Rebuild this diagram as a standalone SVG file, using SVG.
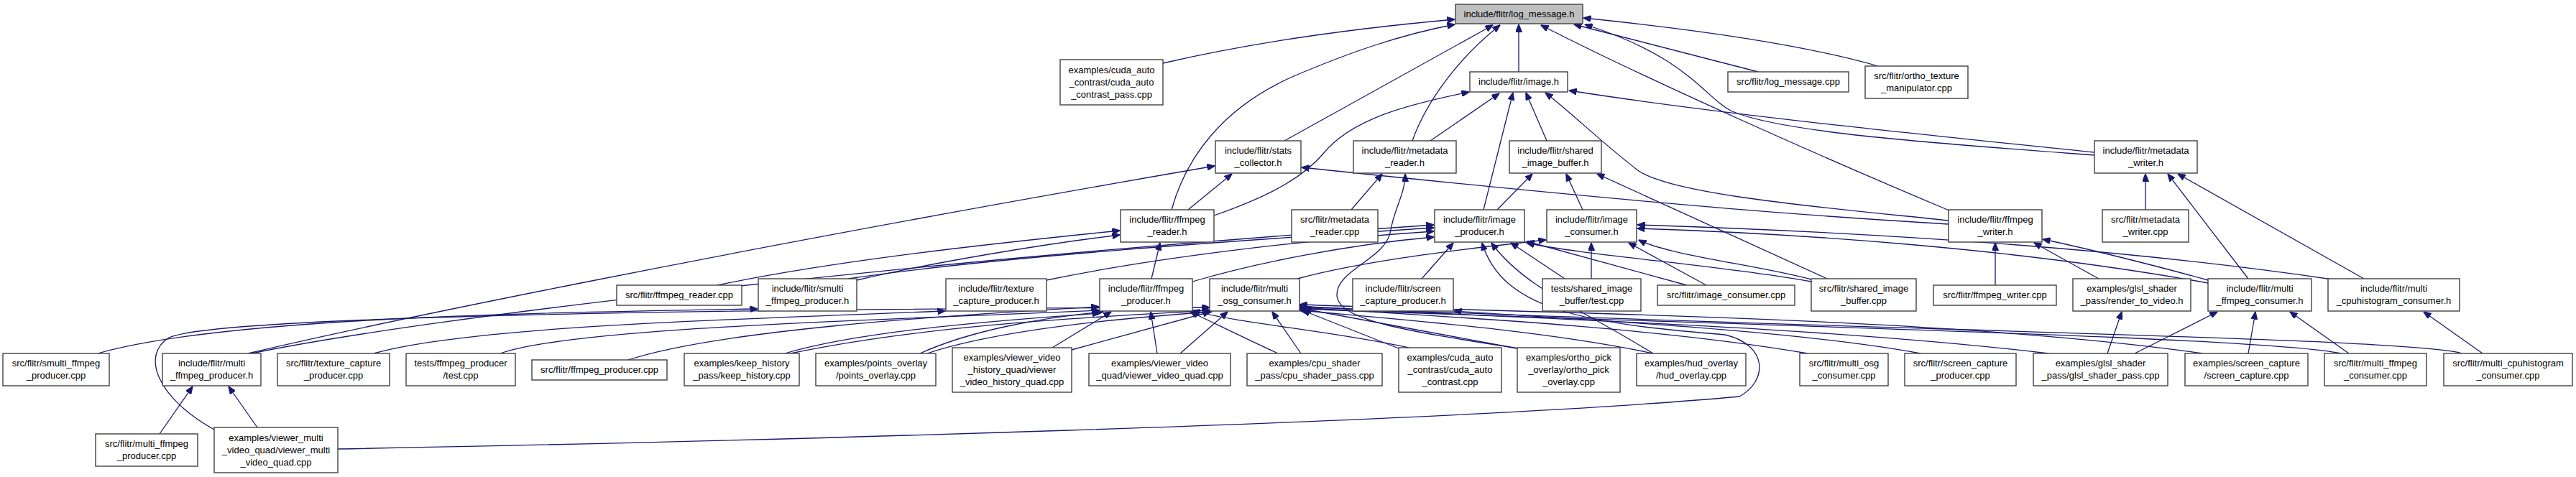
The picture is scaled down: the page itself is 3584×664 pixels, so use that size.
<svg xmlns="http://www.w3.org/2000/svg" width="3584" height="664" viewBox="0 0 3584 664">
<style>
.n rect{fill:#fff;stroke:#404040;stroke-width:1.4}
.n.root rect{fill:#bfbfbf}
.n text{font-family:"Liberation Sans",Arial,sans-serif;font-size:13px;fill:#000;text-anchor:middle}
.e path{fill:none;stroke:#191970;stroke-width:1.3;marker-end:url(#a)}
</style>
<defs>
<marker id="a" markerWidth="11" markerHeight="9" refX="10.5" refY="4.5" orient="auto" markerUnits="userSpaceOnUse"><path d="M0,0 L11,4.5 L0,9 z" fill="#191970" stroke="#191970" stroke-width="1"/></marker>
</defs>
<rect width="3584" height="664" fill="#fff"/>
<g id="edges" class="e">
<path d="M2113,100 L2113,34"/>
<path d="M1618,88 C1760,55 1900,38 2024,27"/>
<path d="M1630,292 C1650,220 1700,150 1800,106 C1880,72 1950,48 2024,34"/>
<path d="M1787,196 L2077,35"/>
<path d="M1965,196 C1985,140 2030,80 2087,35"/>
<path d="M2712,293 C2550,225 2300,115 2144,35"/>
<path d="M2613,92 C2530,68 2400,45 2203,25"/>
<path d="M2446,100 L2190,34"/>
<path d="M2914,216 C2700,200 2480,185 2410,155 C2370,135 2350,80 2205,34"/>
<path d="M2914,212 C2700,190 2400,160 2183,126"/>
<path d="M1689,300 C1760,275 1810,250 1840,215 C1880,165 1960,145 2044,128"/>
<path d="M1990,196 L2086,130"/>
<path d="M2064,292 L2105,129"/>
<path d="M2152,196 L2123,129"/>
<path d="M2711,307 C2550,290 2330,272 2280,238 C2230,200 2190,160 2150,129"/>
<path d="M1653,292 L1714,242"/>
<path d="M345,492 C500,455 1000,350 1690,231"/>
<path d="M2711,312 C2600,305 2400,295 1811,233"/>
<path d="M1880,292 L1923,242"/>
<path d="M2113,485 C1950,460 1860,445 1860,410 C1860,375 1930,360 1935,320 C1940,290 1955,270 1955,242"/>
<path d="M2083,292 L2132,242"/>
<path d="M2202,292 L2179,242"/>
<path d="M2542,388 L2222,242"/>
<path d="M2985,292 L2985,242"/>
<path d="M3128,388 L3016,242"/>
<path d="M3289,388 L3030,242"/>
<path d="M2776,397 L2776,338"/>
<path d="M2920,388 L2830,338"/>
<path d="M3072,390 C3000,370 2900,345 2842,333"/>
<path d="M1602,388 L1614,338"/>
<path d="M998,397 C1150,365 1350,342 1558,321"/>
<path d="M1192,390 C1300,365 1450,340 1558,327"/>
<path d="M1659,392 C1750,365 1880,340 1995,330"/>
<path d="M1456,390 C1600,360 1800,335 1995,322"/>
<path d="M1180,388 C1400,355 1800,330 1995,317"/>
<path d="M350,492 C600,440 1300,360 1995,313"/>
<path d="M1978,388 L2022,338"/>
<path d="M2177,388 L2102,338"/>
<path d="M2347,397 L2124,336"/>
<path d="M2520,392 C2400,370 2200,355 2124,338"/>
<path d="M2300,492 C2200,430 2120,400 2075,338"/>
<path d="M470,625 C1000,615 2000,590 2420,552 C2460,530 2460,480 2400,466 C2200,450 2090,430 2062,338"/>
<path d="M2214,388 L2214,338"/>
<path d="M2374,397 L2266,338"/>
<path d="M2520,389 C2450,370 2320,355 2280,334"/>
<path d="M1805,388 C1900,362 2050,345 2151,334"/>
<path d="M3072,394 C2800,345 2500,325 2278,318"/>
<path d="M3245,389 C2900,338 2500,320 2278,313"/>
<path d="M136,492 C300,445 700,435 1054,430"/>
<path d="M520,492 C650,455 1000,445 1315,433"/>
<path d="M874,501 C1000,460 1300,440 1529,427"/>
<path d="M696,492 C800,455 1250,445 1529,432"/>
<path d="M1092,492 C1200,460 1400,445 1530,436"/>
<path d="M1280,492 C1350,460 1450,442 1535,434"/>
<path d="M1464,484 L1546,434"/>
<path d="M1610,492 L1601,434"/>
<path d="M1778,492 C1730,470 1690,450 1656,434"/>
<path d="M1960,484 C1850,460 1720,450 1659,432"/>
<path d="M1100,492 C1300,450 1550,440 1684,432"/>
<path d="M1290,492 C1400,455 1600,440 1686,434"/>
<path d="M1491,487 L1684,434"/>
<path d="M1642,492 L1708,434"/>
<path d="M1810,492 L1770,434"/>
<path d="M1946,485 L1812,432"/>
<path d="M2111,485 L1814,430"/>
<path d="M2300,492 C2150,460 1950,445 1808,432"/>
<path d="M2515,492 C2300,455 2000,440 1808,428"/>
<path d="M2850,492 C2500,450 2000,440 1808,426"/>
<path d="M3065,492 C2700,440 2100,435 1808,424"/>
<path d="M3257,492 C3150,470 2500,455 1808,430"/>
<path d="M3426,492 C3350,470 2600,460 1808,427"/>
<path d="M298,598 C220,555 195,495 235,470 C300,440 1000,430 1683,428"/>
<path d="M2672,492 C2500,460 2200,445 2023,433"/>
<path d="M2932,492 L2952,434"/>
<path d="M2970,492 L3085,434"/>
<path d="M3128,492 L3138,434"/>
<path d="M3268,492 L3186,434"/>
<path d="M3454,492 L3372,434"/>
<path d="M222,604 L268,538"/>
<path d="M358,595 L318,538"/>
</g>
<g id="n_log" class="n root"><rect x="2025" y="6" width="177" height="27"/><text x="2113.5" y="23.5">include/flitr/log_message.h</text></g>
<g id="n_cudapass" class="n"><rect x="1475" y="83" width="143" height="63"/><text x="1546.5" y="101.5">examples/cuda_auto</text><text x="1546.5" y="118.5">_contrast/cuda_auto</text><text x="1546.5" y="135.5">_contrast_pass.cpp</text></g>
<g id="n_image" class="n"><rect x="2045" y="100" width="136" height="28"/><text x="2113" y="118">include/flitr/image.h</text></g>
<g id="n_logcpp" class="n"><rect x="2404" y="100" width="168" height="28"/><text x="2488" y="118">src/flitr/log_message.cpp</text></g>
<g id="n_ortho" class="n"><rect x="2595" y="92" width="143" height="45"/><text x="2666.5" y="110">src/flitr/ortho_texture</text><text x="2666.5" y="127">_manipulator.cpp</text></g>
<g id="n_stats" class="n"><rect x="1691" y="196" width="119" height="45"/><text x="1750.5" y="214">include/flitr/stats</text><text x="1750.5" y="231">_collector.h</text></g>
<g id="n_mdreader" class="n"><rect x="1883" y="196" width="143" height="45"/><text x="1954.5" y="214">include/flitr/metadata</text><text x="1954.5" y="231">_reader.h</text></g>
<g id="n_sib" class="n"><rect x="2100" y="196" width="128" height="45"/><text x="2164" y="214">include/flitr/shared</text><text x="2164" y="231">_image_buffer.h</text></g>
<g id="n_mdwriter" class="n"><rect x="2914" y="196" width="143" height="45"/><text x="2985.5" y="214">include/flitr/metadata</text><text x="2985.5" y="231">_writer.h</text></g>
<g id="n_ffreader" class="n"><rect x="1559" y="292" width="130" height="45"/><text x="1624" y="310">include/flitr/ffmpeg</text><text x="1624" y="327">_reader.h</text></g>
<g id="n_mdreadercpp" class="n"><rect x="1797" y="292" width="120" height="45"/><text x="1857" y="310">src/flitr/metadata</text><text x="1857" y="327">_reader.cpp</text></g>
<g id="n_improd" class="n"><rect x="1996" y="292" width="125" height="45"/><text x="2058.5" y="310">include/flitr/image</text><text x="2058.5" y="327">_producer.h</text></g>
<g id="n_imcons" class="n"><rect x="2152" y="292" width="125" height="45"/><text x="2214.5" y="310">include/flitr/image</text><text x="2214.5" y="327">_consumer.h</text></g>
<g id="n_ffwriter" class="n"><rect x="2711" y="292" width="130" height="45"/><text x="2776" y="310">include/flitr/ffmpeg</text><text x="2776" y="327">_writer.h</text></g>
<g id="n_mdwritercpp" class="n"><rect x="2925" y="292" width="120" height="45"/><text x="2985" y="310">src/flitr/metadata</text><text x="2985" y="327">_writer.cpp</text></g>
<g id="n_ffreadercpp" class="n"><rect x="858" y="397" width="174" height="28"/><text x="945" y="415">src/flitr/ffmpeg_reader.cpp</text></g>
<g id="n_smultih" class="n"><rect x="1055" y="388" width="137" height="45"/><text x="1123.5" y="406">include/flitr/smulti</text><text x="1123.5" y="423">_ffmpeg_producer.h</text></g>
<g id="n_texcaph" class="n"><rect x="1316" y="388" width="140" height="45"/><text x="1386" y="406">include/flitr/texture</text><text x="1386" y="423">_capture_producer.h</text></g>
<g id="n_ffprodh" class="n"><rect x="1530" y="388" width="129" height="45"/><text x="1594.5" y="406">include/flitr/ffmpeg</text><text x="1594.5" y="423">_producer.h</text></g>
<g id="n_multiosgh" class="n"><rect x="1683" y="388" width="125" height="45"/><text x="1745.5" y="406">include/flitr/multi</text><text x="1745.5" y="423">_osg_consumer.h</text></g>
<g id="n_scrcaph" class="n"><rect x="1882" y="388" width="140" height="45"/><text x="1952" y="406">include/flitr/screen</text><text x="1952" y="423">_capture_producer.h</text></g>
<g id="n_testsib" class="n"><rect x="2146" y="388" width="137" height="45"/><text x="2214.5" y="406">tests/shared_image</text><text x="2214.5" y="423">_buffer/test.cpp</text></g>
<g id="n_imconscpp" class="n"><rect x="2306" y="397" width="191" height="28"/><text x="2401.5" y="415">src/flitr/image_consumer.cpp</text></g>
<g id="n_sibcpp" class="n"><rect x="2520" y="388" width="146" height="45"/><text x="2593" y="406">src/flitr/shared_image</text><text x="2593" y="423">_buffer.cpp</text></g>
<g id="n_ffwritercpp" class="n"><rect x="2690" y="397" width="171" height="28"/><text x="2775.5" y="415">src/flitr/ffmpeg_writer.cpp</text></g>
<g id="n_render" class="n"><rect x="2884" y="388" width="164" height="45"/><text x="2966" y="406">examples/glsl_shader</text><text x="2966" y="423">_pass/render_to_video.h</text></g>
<g id="n_mffconsh" class="n"><rect x="3072" y="388" width="144" height="45"/><text x="3144" y="406">include/flitr/multi</text><text x="3144" y="423">_ffmpeg_consumer.h</text></g>
<g id="n_mcpuh" class="n"><rect x="3239" y="388" width="183" height="45"/><text x="3330.5" y="406">include/flitr/multi</text><text x="3330.5" y="423">_cpuhistogram_consumer.h</text></g>
<g id="n_smulticpp" class="n"><rect x="4" y="492" width="148" height="45"/><text x="78" y="510">src/flitr/smulti_ffmpeg</text><text x="78" y="527">_producer.cpp</text></g>
<g id="n_mffprodh" class="n"><rect x="226" y="492" width="137" height="45"/><text x="294.5" y="510">include/flitr/multi</text><text x="294.5" y="527">_ffmpeg_producer.h</text></g>
<g id="n_texcapcpp" class="n"><rect x="386" y="492" width="156" height="45"/><text x="464" y="510">src/flitr/texture_capture</text><text x="464" y="527">_producer.cpp</text></g>
<g id="n_testffprod" class="n"><rect x="565" y="492" width="152" height="45"/><text x="641" y="510">tests/ffmpeg_producer</text><text x="641" y="527">/test.cpp</text></g>
<g id="n_ffprodcpp" class="n"><rect x="740" y="501" width="188" height="28"/><text x="834" y="519">src/flitr/ffmpeg_producer.cpp</text></g>
<g id="n_keephist" class="n"><rect x="952" y="492" width="160" height="45"/><text x="1032" y="510">examples/keep_history</text><text x="1032" y="527">_pass/keep_history.cpp</text></g>
<g id="n_points" class="n"><rect x="1135" y="492" width="167" height="45"/><text x="1218.5" y="510">examples/points_overlay</text><text x="1218.5" y="527">/points_overlay.cpp</text></g>
<g id="n_vvhq" class="n"><rect x="1325" y="484" width="166" height="62"/><text x="1408" y="502">examples/viewer_video</text><text x="1408" y="519">_history_quad/viewer</text><text x="1408" y="536">_video_history_quad.cpp</text></g>
<g id="n_vvq" class="n"><rect x="1515" y="492" width="197" height="45"/><text x="1613.5" y="510">examples/viewer_video</text><text x="1613.5" y="527">_quad/viewer_video_quad.cpp</text></g>
<g id="n_cpushader" class="n"><rect x="1735" y="492" width="188" height="45"/><text x="1829" y="510">examples/cpu_shader</text><text x="1829" y="527">_pass/cpu_shader_pass.cpp</text></g>
<g id="n_cudacpp" class="n"><rect x="1946" y="484" width="143" height="62"/><text x="2017.5" y="502">examples/cuda_auto</text><text x="2017.5" y="519">_contrast/cuda_auto</text><text x="2017.5" y="536">_contrast.cpp</text></g>
<g id="n_orthopick" class="n"><rect x="2111" y="484" width="143" height="62"/><text x="2182.5" y="502">examples/ortho_pick</text><text x="2182.5" y="519">_overlay/ortho_pick</text><text x="2182.5" y="536">_overlay.cpp</text></g>
<g id="n_hud" class="n"><rect x="2277" y="492" width="152" height="45"/><text x="2353" y="510">examples/hud_overlay</text><text x="2353" y="527">/hud_overlay.cpp</text></g>
<g id="n_mosgcpp" class="n"><rect x="2504" y="492" width="123" height="45"/><text x="2565.5" y="510">src/flitr/multi_osg</text><text x="2565.5" y="527">_consumer.cpp</text></g>
<g id="n_scrcapcpp" class="n"><rect x="2650" y="492" width="155" height="45"/><text x="2727.5" y="510">src/flitr/screen_capture</text><text x="2727.5" y="527">_producer.cpp</text></g>
<g id="n_glsl" class="n"><rect x="2829" y="492" width="187" height="45"/><text x="2922.5" y="510">examples/glsl_shader</text><text x="2922.5" y="527">_pass/glsl_shader_pass.cpp</text></g>
<g id="n_scrcap" class="n"><rect x="3040" y="492" width="171" height="45"/><text x="3125.5" y="510">examples/screen_capture</text><text x="3125.5" y="527">/screen_capture.cpp</text></g>
<g id="n_mffconscpp" class="n"><rect x="3234" y="492" width="142" height="45"/><text x="3305" y="510">src/flitr/multi_ffmpeg</text><text x="3305" y="527">_consumer.cpp</text></g>
<g id="n_mcpucpp" class="n"><rect x="3400" y="492" width="179" height="45"/><text x="3489.5" y="510">src/flitr/multi_cpuhistogram</text><text x="3489.5" y="527">_consumer.cpp</text></g>
<g id="n_mffprodcpp" class="n"><rect x="133" y="604" width="142" height="45"/><text x="204" y="622">src/flitr/multi_ffmpeg</text><text x="204" y="639">_producer.cpp</text></g>
<g id="n_vmvq" class="n"><rect x="298" y="595" width="172" height="63"/><text x="384" y="613.5">examples/viewer_multi</text><text x="384" y="630.5">_video_quad/viewer_multi</text><text x="384" y="647.5">_video_quad.cpp</text></g>
</svg>
